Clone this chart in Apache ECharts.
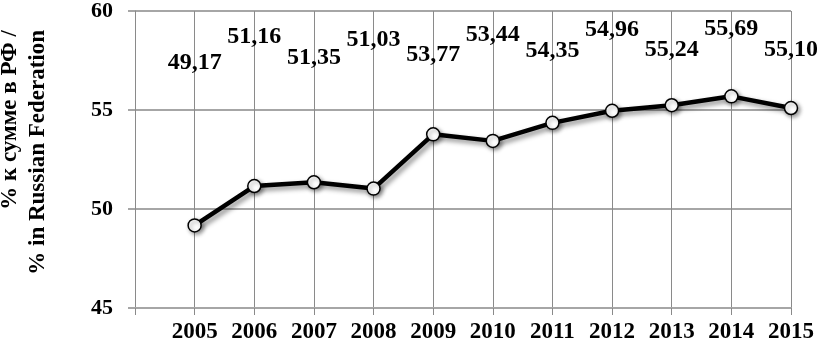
<!DOCTYPE html>
<html>
<head>
<meta charset="utf-8">
<script src="https://cdn.jsdelivr.net/npm/echarts@6/dist/echarts.min.js"></script>
<style>
html,body{margin:0;padding:0;background:#fff;}
#c{width:817px;height:344px;}
</style>
</head>
<body>
<div id="c"></div>
<script>
// ---- data ----
var years = [2005, 2006, 2007, 2008, 2009, 2010, 2011, 2012, 2013, 2014, 2015];
var values = [49.17, 51.16, 51.35, 51.03, 53.77, 53.44, 54.35, 54.96, 55.24, 55.69, 55.10];
var yTicks = [45, 50, 55, 60];
var axisTitle = ['% к сумме в РФ /', '% in Russian Federation'];

// ---- layout (label vertical centres, px) ----
var labelCenterY = [63, 36.5, 58, 40, 55, 35, 50.5, 30, 49.5, 29, 50];

var FONT = "'Liberation Serif', 'Times New Roman', serif";
var chart = echarts.init(document.getElementById('c'), null, {renderer: 'canvas'});

function fmt(v) { return v.toFixed(2).replace('.', ','); }

var option = {
  animation: false,
  backgroundColor: '#ffffff',
  grid: {left: 135, right: 26, top: 8, bottom: 35, containLabel: false},
  xAxis: {
    type: 'value', min: 2004, max: 2015, interval: 1,
    axisLine: {show: true, lineStyle: {color: '#a6a6a6', width: 2}},
    axisTick: {show: true, length: 7, lineStyle: {color: '#8a8a8a', width: 1}},
    splitLine: {show: true, lineStyle: {color: '#8a8a8a', width: 1}},
    axisLabel: {
      margin: 13, color: '#000', fontFamily: FONT, fontWeight: 'bold', fontSize: 23,
      formatter: function (v) { return years.indexOf(v) >= 0 ? String(v) : ''; }
    }
  },
  yAxis: {
    type: 'value', min: yTicks[0], max: yTicks[yTicks.length - 1], interval: 5,
    axisLine: {show: true, lineStyle: {color: '#8a8a8a', width: 1}},
    axisTick: {show: true, length: 7, lineStyle: {color: '#a6a6a6', width: 2}},
    splitLine: {show: true, lineStyle: {color: '#a6a6a6', width: 2}},
    axisLabel: {margin: 22, color: '#000', fontFamily: FONT, fontWeight: 'bold', fontSize: 22}
  },
  graphic: [{
    type: 'text', x: 24, y: 30, rotation: Math.PI / 2,
    style: {
      text: axisTitle.join('\n'), fill: '#000',
      font: 'bold 23px ' + FONT, align: 'right', verticalAlign: 'middle', lineHeight: 28
    }
  }],
  series: [{
    type: 'line',
    data: years.map(function (y, i) { return [y, values[i]]; }),
    symbol: 'circle', symbolSize: 13,
    lineStyle: {color: '#000', width: 4.5, shadowColor: 'rgba(0,0,0,0.45)', shadowBlur: 5, shadowOffsetX: 3, shadowOffsetY: 3},
    itemStyle: {color: '#fff', borderColor: '#000', borderWidth: 1.5, shadowColor: 'rgba(0,0,0,0.4)', shadowBlur: 4, shadowOffsetX: 2, shadowOffsetY: 2},
    label: {show: false}
  }]
};
chart.setOption(option);

// place value labels at their positions
var dataItems = years.map(function (y, i) {
  var p = chart.convertToPixel({gridIndex: 0}, [y, values[i]]);
  return {
    value: [y, values[i]],
    label: {
      show: true, position: 'inside', offset: [0, labelCenterY[i] - p[1]],
      formatter: fmt(values[i]), color: '#000', fontFamily: FONT, fontWeight: 'bold', fontSize: 24
    }
  };
});
chart.setOption({series: [{data: dataItems}]});
</script>
</body>
</html>
